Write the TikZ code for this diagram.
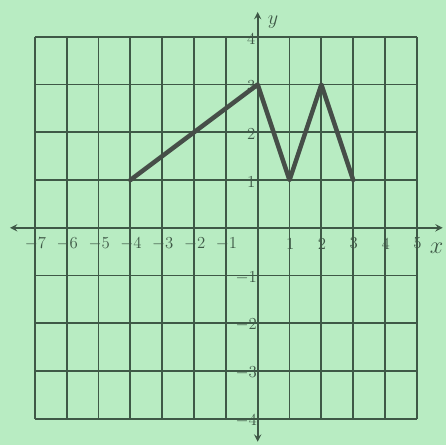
\documentclass[tikz,border=0pt]{standalone}
\usepackage{tikz}
\definecolor{paper}{RGB}{184,236,194}
\definecolor{ink}{RGB}{62,88,70}
\definecolor{curveink}{RGB}{70,78,72}
\begin{document}
\begin{tikzpicture}[>=stealth, x=0.8cm, y=1.2cm,
    gridline/.style={ink, line width=1.3pt},
    axisline/.style={ink, line width=1.3pt, <->},
    ticklabel/.style={ink, font=\large, inner sep=1pt},
    curve/.style={curveink, line width=3.2pt, line cap=round, line join=round}]
        % Background page and bounding box
        \fill[paper] (-8.094,-4.54) rectangle (5.906,4.77);

        % Grid lines (-7 to 5 across, -4 to 4 up)
        \foreach \x in {-7,...,5}
          \draw[gridline] (\x,-4)--(\x,4);
        \foreach \y in {-4,...,4}
          \draw[gridline] (-7,\y)--(5,\y);

        % Axes
        \coordinate (xl) at (-7.78,0);
        \coordinate (xr) at (5.81,0);
        \coordinate (yb) at (0,-4.48);
        \coordinate (yt) at (0,4.52);
        \draw[axisline] (xl)--(xr);
        \draw[axisline] (yb)--(yt);
        \node[ink, font=\LARGE] (xlab) at (5.62,-0.42) {$x$};
        \node[ink, font=\Large] (ylab) at (0.48,4.3) {$y$};

        % Labels below the x-axis
        \foreach \x in {-7,...,-1}
          \node[ticklabel] (xt\x) at (\x+0.02,-0.33) {$\x$};
        \foreach \x in {1,...,5}
          \node[ticklabel] (xt\x) at (\x+0.02,-0.33) {\x};

        % Labels left of the y-axis
        \foreach \y in {1,...,4}
          \node[ticklabel] (yt\y) at (-0.2,\y-0.04) {\y};
        \foreach \y in {-4,...,-1}
          \node[ticklabel] (yt\y) at (-0.36,\y-0.04) {$\y$};

        % The graph
        \coordinate (p1) at (-4,1);
        \coordinate (p2) at (0,3);
        \coordinate (p3) at (1,1);
        \coordinate (p4) at (2,3);
        \coordinate (p5) at (3,1);
        \draw[curve] (p1)--(p2)--(p3)--(p4)--(p5);
\end{tikzpicture}
\end{document}
